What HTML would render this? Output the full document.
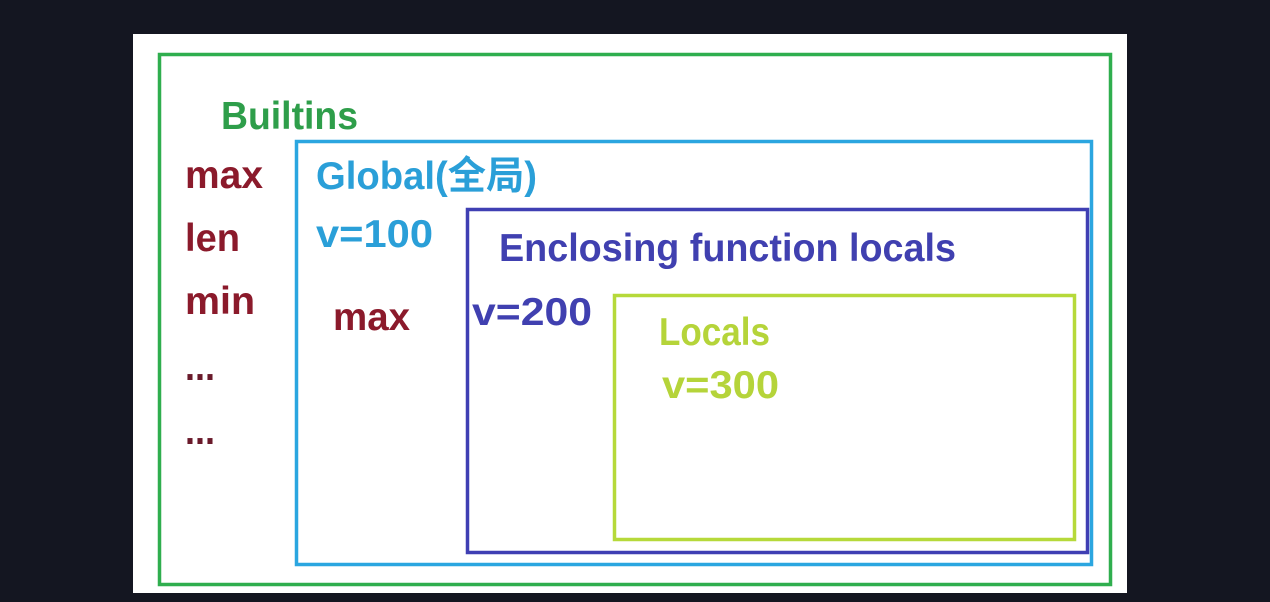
<!DOCTYPE html>
<html><head><meta charset="utf-8"><style>
html,body{margin:0;padding:0;background:#141621;}
svg{display:block}
text{font-family:"Liberation Sans","Noto Sans CJK SC",sans-serif;font-weight:bold;font-size:39px}
</style></head><body>
<svg width="1270" height="602" viewBox="0 0 1270 602" xmlns="http://www.w3.org/2000/svg">
<rect x="0" y="0" width="1270" height="602" fill="#141621"/>
<rect x="133" y="34" width="994" height="559" fill="#ffffff"/>
<rect x="159.5" y="54.5" width="951" height="530" fill="none" stroke="#2fae4e" stroke-width="3.5"/>
<rect x="296.5" y="141.5" width="795" height="423" fill="none" stroke="#2ba6e0" stroke-width="3.5"/>
<rect x="467.5" y="209.5" width="620" height="343" fill="none" stroke="#3f3fb3" stroke-width="3.5"/>
<rect x="614.5" y="295.5" width="460" height="244" fill="none" stroke="#b6d93a" stroke-width="3.5"/>

<text x="221" y="129" fill="#2e9e4a" textLength="137" lengthAdjust="spacingAndGlyphs">Builtins</text>
<text x="185" y="188" fill="#8b1a2b" textLength="78" lengthAdjust="spacingAndGlyphs">max</text>
<text x="185" y="251" fill="#8b1a2b" textLength="55" lengthAdjust="spacingAndGlyphs">len</text>
<text x="185" y="314" fill="#8b1a2b" textLength="70" lengthAdjust="spacingAndGlyphs">min</text>
<text x="185" y="380" fill="#6a1a2b" textLength="30" lengthAdjust="spacingAndGlyphs" style="font-size:40px">...</text>
<text x="185" y="444" fill="#6a1a2b" textLength="30" lengthAdjust="spacingAndGlyphs" style="font-size:40px">...</text>

<text x="316" y="189" fill="#2a9fd8" textLength="221" lengthAdjust="spacingAndGlyphs">Global(全局)</text>
<text x="316" y="247" fill="#2a9fd8" textLength="117" lengthAdjust="spacingAndGlyphs">v=100</text>
<text x="333" y="330" fill="#8b1a2b" textLength="77" lengthAdjust="spacingAndGlyphs">max</text>

<text x="499" y="261" fill="#4040b0" textLength="457" lengthAdjust="spacingAndGlyphs">Enclosing function locals</text>
<text x="472" y="325" fill="#4040b0" textLength="120" lengthAdjust="spacingAndGlyphs">v=200</text>

<text x="659" y="345" fill="#b5d43a" textLength="111" lengthAdjust="spacingAndGlyphs">Locals</text>
<text x="662" y="398" fill="#b5d43a" textLength="117" lengthAdjust="spacingAndGlyphs">v=300</text>
</svg>
</body></html>
